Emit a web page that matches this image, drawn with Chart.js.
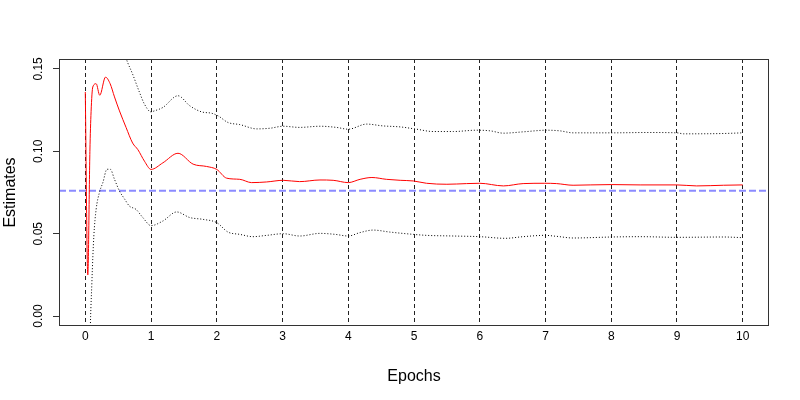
<!DOCTYPE html>
<html>
<head>
<meta charset="utf-8">
<script src="https://cdn.jsdelivr.net/npm/chart.js@4/dist/chart.umd.min.js"></script>
<style>
  body { margin: 0; background: #fff; }
  canvas { display: block; }
</style>
</head>
<body>
<canvas id="chart" width="800" height="400"></canvas>
<script>
// tick positions
const xTicks = [0, 1, 2, 3, 4, 5, 6, 7, 8, 9, 10]
const yTicks = [0, 0.05, 0.10, 0.15]
const xRange = [-0.4, 10.4]
const yRange = [-0.006, 0.156]

// reference level (blue dashed line)
const refLevel = 0.076

// running estimate (red)
const estX = [0, 0.038, 0.07, 0.088, 0.114, 0.165, 0.22, 0.307, 0.378, 0.444, 0.52, 0.62, 0.72, 0.80, 0.90, 1.0, 1.18, 1.41, 1.64, 1.845, 2.0, 2.15, 2.35, 2.53, 2.76, 3.01, 3.26, 3.57, 3.77, 4.0, 4.18, 4.36, 4.58, 4.79, 4.99, 5.19, 5.50, 5.80, 6.0, 6.36, 6.66, 6.99, 7.17, 7.42, 7.68, 8.01, 8.44, 9.0, 9.30, 9.71, 10.0]
const estY = [0.136, 0.025, 0.100, 0.124, 0.139, 0.141, 0.134, 0.145, 0.141, 0.133, 0.1245, 0.1145, 0.105, 0.101, 0.094, 0.089, 0.093, 0.0988, 0.0922, 0.0908, 0.089, 0.0837, 0.0830, 0.0810, 0.0814, 0.0824, 0.0816, 0.0826, 0.0824, 0.0810, 0.0830, 0.0841, 0.0830, 0.0824, 0.0820, 0.0806, 0.0800, 0.0804, 0.0806, 0.0790, 0.0804, 0.0806, 0.0804, 0.0794, 0.0796, 0.0798, 0.0796, 0.0796, 0.0790, 0.0794, 0.0796]

// upper band (dotted)
const upperX = [0, 0.04, 0.1, 0.3, 0.5, 0.62, 0.72, 0.825, 0.90, 1.0, 1.05, 1.18, 1.41, 1.59, 1.77, 1.92, 2.02, 2.17, 2.35, 2.61, 2.81, 3.01, 3.26, 3.57, 3.82, 4.0, 4.28, 4.53, 4.79, 5.04, 5.29, 5.60, 5.95, 6.16, 6.36, 6.66, 7.02, 7.22, 7.42, 8.01, 8.54, 9.0, 9.10, 9.71, 10.0]
const upperY = [0.25, 0.20, 0.22, 0.21, 0.175, 0.1566, 0.1468, 0.1357, 0.1286, 0.1239, 0.1245, 0.1266, 0.1337, 0.1276, 0.1239, 0.1231, 0.1215, 0.1175, 0.1162, 0.1136, 0.1140, 0.1152, 0.1145, 0.1152, 0.1145, 0.1134, 0.1165, 0.1154, 0.1148, 0.1134, 0.1120, 0.1120, 0.1128, 0.1124, 0.1110, 0.1118, 0.1128, 0.1124, 0.1112, 0.1112, 0.1114, 0.1112, 0.1106, 0.1108, 0.1112]

// lower band (dotted)
const lowerX = [0, 0.04, 0.07, 0.10, 0.13, 0.165, 0.215, 0.267, 0.33, 0.38, 0.444, 0.52, 0.60, 0.67, 0.77, 0.875, 1.0, 1.18, 1.39, 1.59, 1.79, 2.0, 2.17, 2.35, 2.55, 2.76, 3.01, 3.26, 3.57, 3.80, 4.0, 4.18, 4.38, 4.63, 4.99, 5.19, 5.60, 6.0, 6.39, 6.66, 6.99, 7.17, 7.42, 8.01, 8.44, 9.0, 9.71, 10.0]
const lowerY = [-0.25, -0.12, -0.02, 0.0203, 0.0486, 0.0648, 0.0750, 0.0810, 0.0891, 0.0891, 0.0830, 0.0759, 0.0709, 0.0668, 0.0648, 0.0598, 0.0549, 0.0577, 0.0632, 0.0598, 0.0587, 0.0567, 0.0510, 0.0496, 0.0482, 0.0490, 0.0500, 0.0486, 0.0502, 0.0496, 0.0486, 0.0507, 0.0522, 0.0510, 0.0496, 0.0490, 0.0486, 0.0482, 0.0472, 0.0482, 0.0490, 0.0484, 0.0474, 0.0480, 0.0482, 0.0478, 0.0480, 0.0476]

const toPoints = (xs, ys) => xs.map((x, i) => ({ x: x, y: ys[i] }))

const FONT = "'Liberation Sans', Arial, Helvetica, sans-serif"

// box around the plot region, like R's box()
const boxPlugin = {
  id: "box",
  afterDatasetsDraw(chart) {
    const { ctx, chartArea } = chart
    ctx.save()
    ctx.strokeStyle = "#333"
    ctx.lineWidth = 1
    ctx.strokeRect(chartArea.left + 0.5, chartArea.top + 0.5,
      chartArea.right - chartArea.left - 1, chartArea.bottom - chartArea.top - 1)
    ctx.restore()
  },
}

new Chart(document.getElementById("chart"), {
  type: "line",
  data: {
    datasets: [
      {
        label: "upper",
        data: toPoints(upperX, upperY),
        borderColor: "#000",
        borderWidth: 1,
        borderDash: [1, 2],
        pointRadius: 0,
        cubicInterpolationMode: "monotone",
      },
      {
        label: "lower",
        data: toPoints(lowerX, lowerY),
        borderColor: "#000",
        borderWidth: 1,
        borderDash: [1, 2],
        pointRadius: 0,
        cubicInterpolationMode: "monotone",
      },
      {
        label: "estimate",
        data: toPoints(estX, estY),
        borderColor: "#ff0000",
        borderWidth: 1,
        pointRadius: 0,
        cubicInterpolationMode: "monotone",
      },
      {
        label: "reference",
        data: toPoints(xRange, [refLevel, refLevel]),
        borderColor: "rgba(90, 90, 255, 0.7)",
        borderWidth: 2,
        borderDash: [7, 3],
        pointRadius: 0,
      },
    ],
  },
  options: {
    responsive: false,
    animation: false,
    layout: { padding: { top: 59, right: 31, left: 0, bottom: 0 } },
    plugins: {
      legend: { display: false },
      tooltip: { enabled: false },
    },
    scales: {
      x: {
        type: "linear",
        min: xRange[0],
        max: xRange[1],
        afterBuildTicks: (s) => { s.ticks = xTicks.map((v) => ({ value: v })) },
        afterFit: (s) => { s.height = 74 },
        ticks: {
          color: "#000",
          font: { family: FONT, size: 12 },
          padding: 3,
          maxRotation: 0,
        },
        grid: {
          color: "#222",
          lineWidth: 1,
          drawTicks: false,
        },
        border: { display: false, dash: [4, 3] },
        title: {
          display: true,
          text: "Epochs",
          color: "#000",
          font: { family: FONT, size: 16 },
          padding: { top: 0, bottom: 14 },
        },
      },
      y: {
        min: yRange[0],
        max: yRange[1],
        afterBuildTicks: (s) => { s.ticks = yTicks.map((v) => ({ value: v })) },
        afterFit: (s) => { s.width = 59 },
        ticks: {
          color: "#000",
          font: { family: FONT, size: 12 },
          padding: 3,
          minRotation: 90,
          maxRotation: 90,
          crossAlign: "center",
          callback: (v) => v.toFixed(2),
        },
        grid: {
          drawOnChartArea: false,
          drawTicks: true,
          tickLength: 6,
          color: "#333",
        },
        border: { display: false },
        title: {
          display: true,
          text: "Estimates",
          color: "#000",
          font: { family: FONT, size: 16 },
          padding: { top: 1, bottom: 0 },
        },
      },
    },
  },
  plugins: [boxPlugin],
})
</script>
</body>
</html>
